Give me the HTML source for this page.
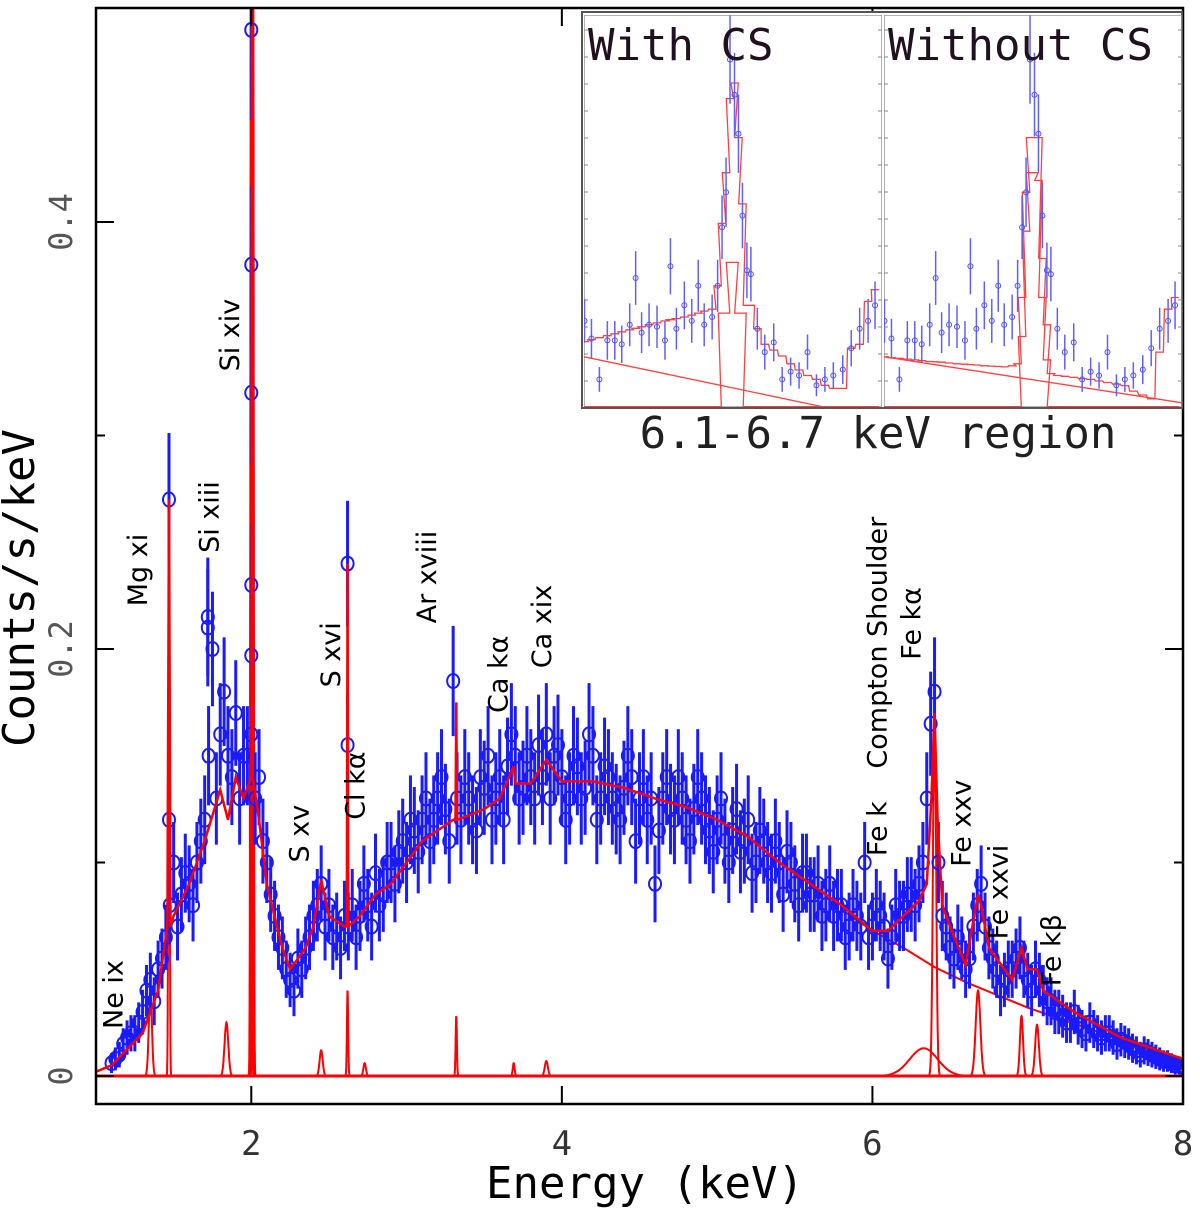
<!DOCTYPE html>
<html><head><meta charset="utf-8"><style>
html,body{margin:0;padding:0;background:#fff;}
svg{display:block;}
</style></head><body>
<svg id="chart" width="1200" height="1222" viewBox="0 0 1200 1222" xmlns="http://www.w3.org/2000/svg">
<g id="main-marks"></g>
<g id="axes"></g>
<g id="labels"></g>
<g id="inset"></g>
</svg>
<script>
// ---------- main chart data ----------
const dataE = [];
for (let i = 0; i <= 138; i++) dataE.push(+(1.10 + i * 0.05).toFixed(2));
const dataV = [.006,.01,.018,.02,.03,.045,.05,.065,.1,.085,.09,.1,.12,.2,.16,.15,.17,.15,.16,.14,.1,.075,.06,.045,.055,.06,.075,.09,.08,.07,.075,.08,.075,.08,.095,.085,.1,.105,.1,.115,.12,.11,.13,.125,.185,.12,.13,.115,.135,.12,.14,.145,.15,.135,.14,.155,.16,.15,.14,.13,.145,.135,.15,.13,.14,.125,.135,.14,.13,.12,.09,.13,.125,.14,.12,.125,.13,.115,.12,.11,.115,.105,.12,.1,.11,.095,.1,.105,.09,.095,.085,.09,.08,.075,.08,.07,.075,.1,.07,.075,.055,.08,.075,.085,.09,.13,.18,.075,.06,.065,.05,.07,.09,.06,.05,.045,.05,.06,.045,.05,.04,.035,.03,.025,.03,.022,.025,.02,.02,.018,.017,.015,.012,.012,.01,.008,.007,.005,.004];
const dataE2 = [];
for (let i = 0; i < 138; i++) dataE2.push(+(1.125 + i * 0.05).toFixed(3));
const dataV2 = [.008,.015,.02,.025,.04,.035,.055,.08,.07,.095,.08,.11,.15,.13,.18,.14,.13,.15,.13,.11,.085,.065,.05,.04,.05,.065,.08,.07,.065,.06,.07,.065,.09,.07,.08,.1,.09,.11,.12,.105,.13,.12,.14,.11,.13,.14,.12,.14,.15,.13,.12,.16,.13,.15,.13,.14,.13,.155,.12,.15,.13,.16,.12,.145,.13,.12,.15,.11,.14,.13,.115,.14,.12,.13,.11,.14,.12,.105,.13,.1,.125,.11,.095,.115,.1,.11,.085,.1,.08,.095,.085,.075,.09,.08,.065,.08,.07,.065,.08,.07,.065,.075,.085,.08,.1,.165,.1,.07,.055,.06,.055,.08,.07,.055,.04,.05,.055,.05,.04,.045,.035,.03,.028,.025,.024,.02,.022,.018,.02,.015,.016,.013,.01,.011,.009,.007,.006,.005];
const spikeE = [2.0,2.0,2.0,2.0,2.0,1.47,2.62,2.62,1.72,1.72,1.47];
const spikeV = [.49,.38,.32,.23,.197,.27,.24,.155,.21,.215,.12];
const modelE = [1.0,1.1,1.3,1.4,1.46,1.47,1.48,1.5,1.6,1.7,1.8,1.85,1.9,1.95,2.0,2.005,2.01,2.05,2.1,2.15,2.2,2.25,2.3,2.35,2.4,2.45,2.5,2.6,2.615,2.62,2.625,2.7,2.8,2.9,3.0,3.1,3.2,3.3,3.315,3.32,3.325,3.4,3.5,3.6,3.69,3.7,3.8,3.9,4.0,4.2,4.4,4.6,4.8,5.0,5.2,5.4,5.6,5.8,6.0,6.1,6.2,6.3,6.35,6.38,6.4,6.42,6.45,6.5,6.6,6.68,6.7,6.75,6.9,6.96,7.0,7.06,7.1,7.3,7.6,8.0];
const modelV = [.002,.005,.02,.04,.07,.27,.07,.075,.09,.11,.134,.12,.14,.13,.14,.6,.14,.12,.09,.075,.06,.05,.055,.06,.07,.092,.075,.07,.07,.24,.07,.075,.085,.09,.1,.11,.115,.12,.12,.175,.12,.122,.125,.13,.145,.137,.137,.148,.138,.138,.135,.13,.126,.12,.112,.1,.09,.08,.068,.068,.075,.082,.09,.13,.17,.12,.08,.07,.052,.085,.08,.06,.045,.06,.05,.05,.04,.03,.018,.008];
const lineE = [1.35,1.47,1.84,2.005,2.45,2.62,2.73,3.32,3.69,3.9,6.33,6.4,6.68,6.96,7.06];
const lineAmp = [.04,.27,.025,.6,.012,.04,.006,.028,.006,.007,.013,.17,.04,.028,.024];
const lineW = [.01,.004,.012,.004,.01,.004,.008,.004,.006,.01,.09,.01,.015,.01,.012];
const contE = [5.8,6.0,6.2,6.4,6.6,6.8,7.0,7.2,7.4,7.6,7.8,8.0];
const contV = [.078,.068,.06,.051,.044,.038,.032,.027,.022,.017,.012,.008];
const xTicks = [2,4,6,8];
const xTickLabels = ['2','4','6','8'];
const yTicks = [0,0.2,0.4];
const yTickLabels = ['0','0.2','0.4'];
const yMinor = [0.1,0.3];
const labelText = ['Ne ix','Mg xi','Si xiii','Si xiv','S xv','S xvi','Cl kα','Ar xviii','Ca kα','Ca xix','Compton Shoulder','Fe kα','Fe k','Fe xxv','Fe xxvi','Fe kβ'];
const labelE = [1.17,1.33,1.79,1.92,2.37,2.57,2.73,3.19,3.65,3.93,6.09,6.31,6.09,6.63,6.87,7.21];
const labelV = [.022,.22,.245,.33,.1,.182,.12,.212,.17,.191,.144,.195,.103,.098,.064,.042];

const NS = 'http://www.w3.org/2000/svg';
const X0 = 96, X1 = 1183, Ytop = 8, Ybot = 1104;
const X = e => X0 + (e - 1) / 7 * (X1 - X0);
const Y = v => 1076 - v * 2135;
function mk(tag, attrs, parent) {
  const el = document.createElementNS(NS, tag);
  for (const k in attrs) el.setAttribute(k, attrs[k]);
  parent.appendChild(el);
  return el;
}
const main = document.getElementById('main-marks');
const clip = mk('clipPath', {id: 'plotclip'}, main);
mk('rect', {x: X0, y: Ytop, width: X1 - X0, height: Ybot - Ytop}, clip);
const gData = mk('g', {'clip-path': 'url(#plotclip)'}, main);

lineE.forEach((e, i) => {
  let pts = [];
  for (let k = -40; k <= 40; k++) {
    const ee = e + k * lineW[i] * 0.1;
    const v = lineAmp[i] * Math.exp(-0.5 * Math.pow((ee - e) / lineW[i], 2));
    pts.push(X(ee).toFixed(1) + ',' + Y(v).toFixed(1));
  }
  const p = mk('polyline', {points: pts.join(' '), fill: 'none', stroke: '#ff0000', 'stroke-width': i === 3 ? 4 : 2}, gData);
  
  
});
const cont = mk('polyline', {points: contE.map((e, i) => X(e) + ',' + Y(contV[i])).join(' '), fill: 'none', stroke: '#ff0000', 'stroke-width': 2}, gData);



const allE = dataE.concat(dataE2.slice(0, dataV2.length), spikeE), allV = dataV.concat(dataV2.slice(0, dataE2.length), spikeV);
allE.forEach((e, i) => {
  const v = allV[i];
  const err = Math.sqrt(Math.max(v, 0.001)) * 0.06;
  const b = mk('rect', {x: X(e) - 1.5, y: Y(v + err), width: 3, height: Y(v - err) - Y(v + err), fill: '#1a1aff'}, gData);
  
  
  const c = mk('ellipse', {cx: X(e), cy: Y(v), rx: 6, ry: 7, fill: 'none', stroke: '#1a1aff', 'stroke-width': 2}, gData);
  
  
});
const base = mk('line', {x1: X0, y1: Y(0), x2: X1, y2: Y(0), stroke: '#ff0000', 'stroke-width': 3}, gData);


const model = mk('polyline', {points: modelE.map((e, i) => X(e).toFixed(1) + ',' + Y(modelV[i]).toFixed(1)).join(' '), fill: 'none', stroke: '#ff0000', 'stroke-width': 2.5}, gData);



const ax = document.getElementById('axes');
mk('rect', {x: X0, y: Ytop, width: X1 - X0, height: Ybot - Ytop, fill: 'none', stroke: '#000', 'stroke-width': 2.5}, ax);
xTicks.forEach((t, i) => {
  mk('line', {x1: X(t), y1: Ybot, x2: X(t), y2: Ybot - 18, stroke: '#000', 'stroke-width': 2}, ax);
  mk('line', {x1: X(t), y1: Ytop, x2: X(t), y2: Ytop + 18, stroke: '#000', 'stroke-width': 2}, ax);
  const tl = mk('text', {x: X(t), y: 1155, 'text-anchor': 'middle', 'font-family': 'DejaVu Sans Mono, Liberation Mono, monospace', 'font-size': 34, fill: '#333'}, ax);
  tl.textContent = xTickLabels[i];
  
  
});
yTicks.forEach((t, i) => {
  mk('line', {x1: X0, y1: Y(t), x2: X0 + 18, y2: Y(t), stroke: '#000', 'stroke-width': 2}, ax);
  mk('line', {x1: X1, y1: Y(t), x2: X1 - 18, y2: Y(t), stroke: '#000', 'stroke-width': 2}, ax);
  const tl = mk('text', {x: 0, y: 0, transform: 'translate(72,' + Y(t) + ') rotate(-90)', 'text-anchor': 'middle', 'font-family': 'DejaVu Sans Mono, Liberation Mono, monospace', 'font-size': 32, fill: '#555'}, ax);
  tl.textContent = yTickLabels[i];
  
  
});
yMinor.forEach(t => {
  mk('line', {x1: X0, y1: Y(t), x2: X0 + 9, y2: Y(t), stroke: '#000', 'stroke-width': 2}, ax);
  mk('line', {x1: X1, y1: Y(t), x2: X1 - 9, y2: Y(t), stroke: '#000', 'stroke-width': 2}, ax);
});
const xt = mk('text', {x: 645, y: 1198, 'text-anchor': 'middle', 'font-family': 'DejaVu Sans Mono, Liberation Mono, monospace', 'font-size': 44, fill: '#000'}, ax);
xt.textContent = 'Energy (keV)';


const yt = mk('text', {x: 0, y: 0, transform: 'translate(34,588) rotate(-90)', 'text-anchor': 'middle', 'font-family': 'DejaVu Sans Mono, Liberation Mono, monospace', 'font-size': 44, fill: '#000'}, ax);
yt.textContent = 'Counts/s/keV';



const lg = document.getElementById('labels');
labelText.forEach((s, i) => {
  const t = mk('text', {x: 0, y: 0, transform: 'translate(' + X(labelE[i]).toFixed(1) + ',' + Y(labelV[i]).toFixed(1) + ') rotate(-90)', 'font-family': 'DejaVu Sans, Liberation Sans, sans-serif', 'font-size': 27, fill: '#000'}, lg);
  t.textContent = s;
  
  
});

// ---------- inset ----------
const insE = [6.101,6.115,6.131,6.147,6.162,6.176,6.192,6.204,6.216,6.231,6.247,6.263,6.274,6.286,6.302,6.317,6.330,6.342,6.358,6.369,6.378,6.386,6.394,6.403,6.411,6.419,6.428,6.436,6.449,6.464,6.482,6.499,6.516,6.533,6.550,6.568,6.585,6.602,6.621,6.638,6.655,6.672,6.686];
const insV = [22,17.5,7,17,17,16,21,33,19,21,20.5,17,36,20,26,22,31,21,23,31,46,55,89,80,70,49,35,34,20,14,16.5,7,9,8,14,5.5,7,8,9.5,15,20,22,26];
const insModelCS = [16.7,17.2,17.7,18.2,18.7,19.2,19.7,20.1,20.5,21,21.5,22,22.3,22.6,23,23.5,24,24.5,25,31,47,60,79,83,69,52,26,26,20,16,14.5,13,11,9.4,8,7,5.5,4.7,4.7,15,16,27,30];
const insModelNoCS = [12.8,12.6,12.4,12.2,12,11.8,11.6,11.5,11.4,11.2,11,10.9,10.8,10.7,10.5,10.4,10.3,10.2,10.5,11,28,55,69,69,69,38,21,8.5,8,7.8,7.5,7.2,7,6.6,6.2,5.8,5.4,4,3,2,14,25,28];
const insLineCS = [0,0,0,0,0,0,0,0,0,0,0,0,0,0,0,0,0,0,0,0,24,24,37,37,24,24,0,0,0,0,0,0,0,0,0,0,0,0,0,0,0,0,0];
const insLineNoCS = [0,0,0,0,0,0,0,0,0,0,0,0,0,0,0,0,0,0,0,0,18,45,60,60,58,28,12,0,0,0,0,0,0,0,0,0,0,0,0,0,0,0,0];
const insCont = [12.8, 0];
const insContE = [6.1, 6.58];
const insContNoCS = [12.8, 1];
const insContENoCS = [6.1, 6.7];
const panelTitles = ['With CS', 'Without CS'];

const ins = document.getElementById('inset');
mk('rect', {x: 582, y: 12, width: 600, height: 396, fill: '#fff', stroke: '#555', 'stroke-width': 2}, ins);
const panels = [
  {x0: 584, model: insModelCS, line: insLineCS, cE: insContE, cV: insCont},
  {x0: 884, model: insModelNoCS, line: insLineNoCS, cE: insContENoCS, cV: insContNoCS}
];
panels.forEach((p, pi) => {
  const PX = e => p.x0 + (e - 6.1) / 0.6 * 298;
  const PY = v => 406.7 - v * 3.9;
  const g = mk('g', {}, ins);
  
  
  const cp = mk('clipPath', {id: 'ic' + pi}, g);
  mk('rect', {x: p.x0, y: 15, width: 298, height: 392}, cp);
  const gg = mk('g', {'clip-path': 'url(#ic' + pi + ')'}, g);
  mk('rect', {x: p.x0, y: 15, width: 298, height: 392, fill: 'none', stroke: '#999', 'stroke-width': 1.5}, gg);
  for (let k = 0; k < 14; k++) {
    mk('line', {x1: p.x0, y1: 30 + k * 27, x2: p.x0 + 4, y2: 30 + k * 27, stroke: '#888'}, gg);
    mk('line', {x1: p.x0 + 298, y1: 30 + k * 27, x2: p.x0 + 294, y2: 30 + k * 27, stroke: '#888'}, gg);
  }
  const step = (arr) => {
    let pts = [];
    insE.forEach((e, i) => {
      const xa = PX(e - 0.0075), xb = PX(e + 0.0075);
      pts.push(xa.toFixed(1) + ',' + PY(arr[i]).toFixed(1), xb.toFixed(1) + ',' + PY(arr[i]).toFixed(1));
    });
    return pts.join(' ');
  };
  const m = mk('polyline', {points: step(p.model), fill: 'none', stroke: '#ff4040', 'stroke-width': 1.3}, gg);
  
  
  const l = mk('polyline', {points: step(p.line), fill: 'none', stroke: '#ff4040', 'stroke-width': 1.3}, gg);
  
  
  const c = mk('line', {x1: PX(p.cE[0]), y1: PY(p.cV[0]), x2: PX(p.cE[1]), y2: PY(p.cV[1]), stroke: '#ff4040', 'stroke-width': 1.3}, gg);
  
  
  insE.forEach((e, i) => {
    const v = insV[i], err = Math.sqrt(v) * 1.2;
    const b = mk('line', {x1: PX(e), y1: PY(v + err), x2: PX(e), y2: PY(v - err), stroke: '#6060ff', 'stroke-width': 1.5}, gg);
    
    
    const d = mk('circle', {cx: PX(e), cy: PY(v), r: 2.5, fill: 'none', stroke: '#5050ff', 'stroke-width': 1}, gg);
    
    
  });
  const t = mk('text', {x: p.x0 + 4, y: 60, 'font-family': 'DejaVu Sans Mono, Liberation Mono, monospace', 'font-size': 44, fill: '#201020'}, g);
  t.textContent = panelTitles[pi];
  
  
});
const rt = mk('text', {x: 878, y: 448, 'text-anchor': 'middle', 'font-family': 'DejaVu Sans Mono, Liberation Mono, monospace', 'font-size': 44, fill: '#202020'}, ins);
rt.textContent = '6.1-6.7 keV region';


</script>
</body></html>
